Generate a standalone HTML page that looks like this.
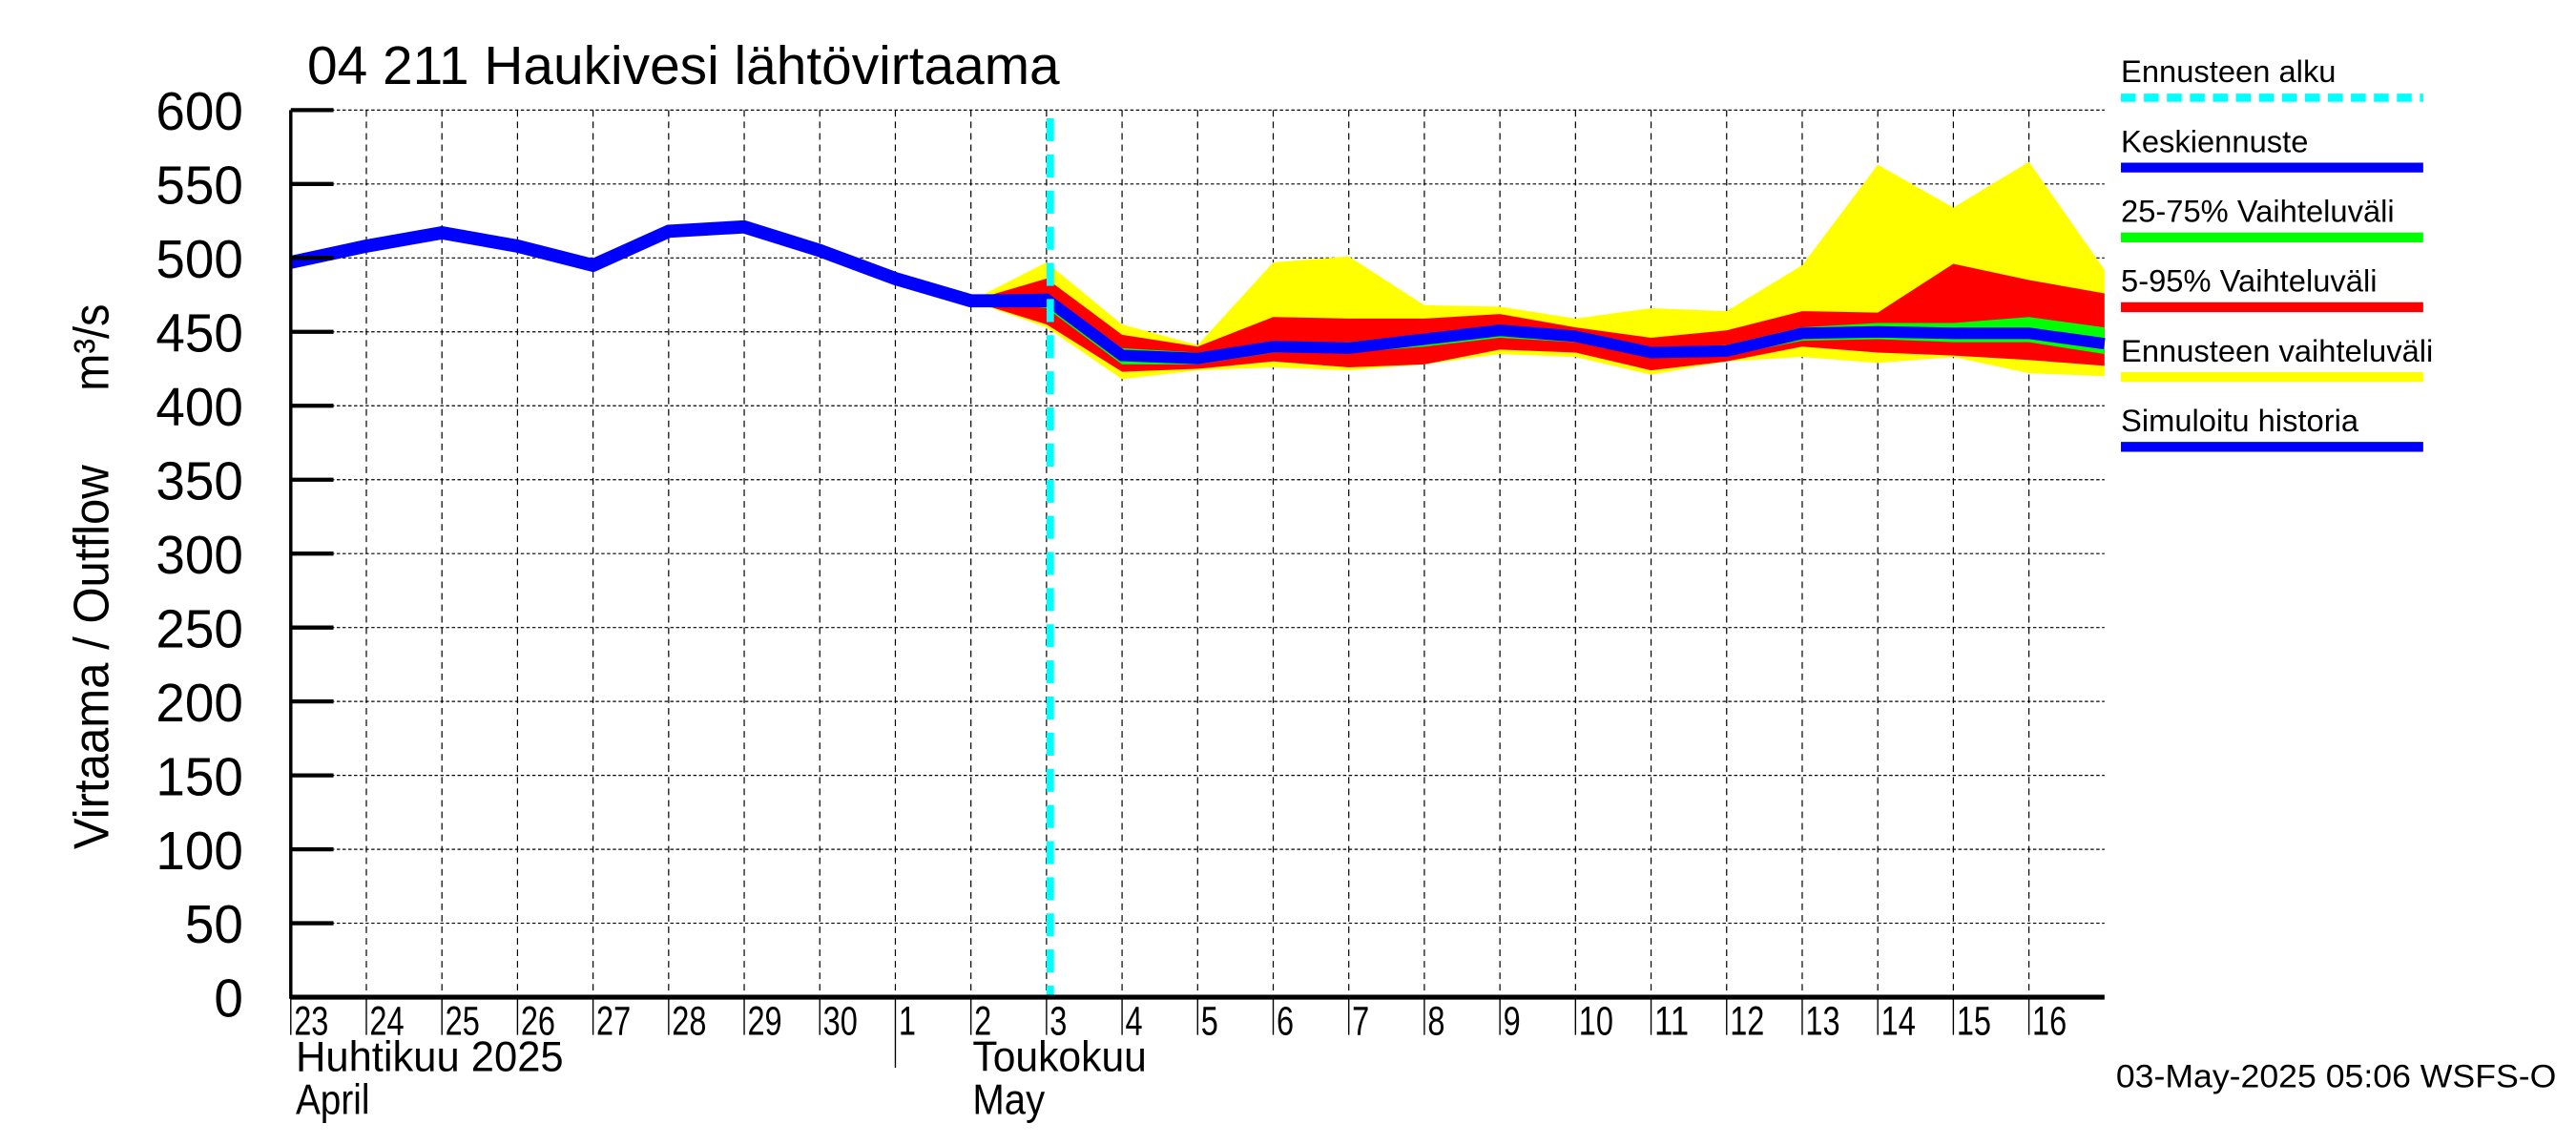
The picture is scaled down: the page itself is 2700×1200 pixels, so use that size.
<!DOCTYPE html>
<html><head><meta charset="utf-8"><style>
html,body{margin:0;padding:0;background:#fff;width:2700px;height:1200px;overflow:hidden}
svg{display:block}
text{font-family:"Liberation Sans",sans-serif;fill:#000}
</style></head><body>
<svg id="chart" width="2700" height="1200" viewBox="0 0 1568 697" preserveAspectRatio="none" xmlns="http://www.w3.org/2000/svg">
<g id="grid"></g>
<g id="bands"></g>
<g id="lines"></g>
<g id="axes"></g>
<text x="187" y="51" font-size="33" textLength="458" lengthAdjust="spacingAndGlyphs">04 211 Haukivesi lähtövirtaama</text>
<text transform="translate(66,517) rotate(-90)" font-size="30" textLength="234" lengthAdjust="spacingAndGlyphs">Virtaama / Outflow</text>
<text transform="translate(66,238) rotate(-90)" font-size="30" textLength="53" lengthAdjust="spacingAndGlyphs">m³/s</text>
<text x="180" y="652" font-size="26" textLength="163" lengthAdjust="spacingAndGlyphs">Huhtikuu  2025</text>
<text x="180" y="678" font-size="26" textLength="45" lengthAdjust="spacingAndGlyphs">April</text>
<text x="592" y="652" font-size="26" textLength="106" lengthAdjust="spacingAndGlyphs">Toukokuu</text>
<text x="592" y="678" font-size="26" textLength="44" lengthAdjust="spacingAndGlyphs">May</text>
<text x="1556" y="662" text-anchor="end" font-size="20" textLength="268" lengthAdjust="spacingAndGlyphs">03-May-2025 05:06 WSFS-O</text>
<g id="legend"></g>
</svg>
<script>
const yTicks=[0,50,100,150,200,250,300,350,400,450,500,550,600];
const dayLabels=["23","24","25","26","27","28","29","30","1","2","3","4","5","6","7","8","9","10","11","12","13","14","15","16"];
const histDays=[0,1,2,3,4,5,6,7,8,9,10];
const histVals=[497,508,517,508,495,518,521,505,486,471,471];
const fcDays=[9,10,11,12,13,14,15,16,17,18,19,20,21,22,23,24];
const median=[471,472,434,432,440,439,445,451,447,436,437,449,450,449,449,442];
const p25=[471,466,428,428,436,436,440,446,443,433,434,444,445,443,443,435];
const p75=[471,476,439,436,443,443,448,453,449,439,441,453,456,456,460,453];
const p5=[471,455,423,425,430,426,428,438,436,424,430,440,436,434,431,427];
const p95=[471,486,448,440,460,459,459,462,453,446,451,464,463,496,485,476];
const ymin=[471,453,418,424,426,424,428,435,433,421,430,433,429,433,422,420];
const ymax=[471,497,455,441,497,501,468,467,459,466,464,495,563,534,565,492];
const forecastStart=10.05;

const X0=177,X1=1281,Y0=607,Y1=67,NDAYS=24;
const xs=d=>X0+d*(X1-X0)/NDAYS;
const ys=v=>Y0-(v/600)*(Y0-Y1);
const NS="http://www.w3.org/2000/svg";
function mk(tag,parent,attrs){const e=document.createElementNS(NS,tag);for(const k in attrs)e.setAttribute(k,attrs[k]);parent.appendChild(e);return e;}
const grid=document.getElementById('grid'),bands=document.getElementById('bands'),lines=document.getElementById('lines'),axes=document.getElementById('axes'),legend=document.getElementById('legend');

yTicks.forEach(v=>{
  const l=mk('line',grid,{x1:X0,x2:X1,y1:ys(v),y2:ys(v),stroke:'#000','stroke-width':0.7,'stroke-dasharray':'2,1.5'});
  
  
  const t=mk('line',axes,{x1:X0,x2:X0+26,y1:ys(v),y2:ys(v),stroke:'#000','stroke-width':2.5});
  
  
  const s=String(v);
  const tx=mk('text',axes,{x:148,y:ys(v)+12,'text-anchor':'end','font-size':33,textLength:s.length*17.7,lengthAdjust:'spacingAndGlyphs'});
  tx.textContent=s;
  
  
});
dayLabels.forEach((lab,i)=>{
  const x=xs(i);
  if(i>0){const g=mk('line',grid,{x1:x,x2:x,y1:Y1,y2:Y0,stroke:'#000','stroke-width':0.7,'stroke-dasharray':'4,3'});
  
  }
  const t=mk('line',axes,{x1:x,x2:x,y1:Y0,y2:lab==="1"?650:630,stroke:'#000','stroke-width':0.8});
  
  
  const tx=mk('text',axes,{x:x+2,y:630,'font-size':25,textLength:lab.length*10.5,lengthAdjust:'spacingAndGlyphs'});
  tx.textContent=lab;
  
  
});
function band(lo,hi,color,name){
  let d='M'+fcDays.map((dd,i)=>xs(dd)+','+ys(hi[i])).join(' L');
  d+=' L'+fcDays.map((dd,i)=>xs(dd)+','+ys(lo[i])).reverse().join(' L')+' Z';
  const p=mk('path',bands,{d:d,fill:color});
  
  
}
band(ymin,ymax,'#ffff00','forecast-range-band');
band(p5,p95,'#ff0000','band-5-95');
band(p25,p75,'#00ff00','band-25-75');
const hl=mk('polyline',lines,{points:histDays.map((d,i)=>xs(d)+','+ys(histVals[i])).join(' '),fill:'none',stroke:'#0000ff','stroke-width':8,'stroke-linejoin':'round'});


const ml=mk('polyline',lines,{points:fcDays.map((d,i)=>xs(d)+','+ys(median[i])).join(' '),fill:'none',stroke:'#0000ff','stroke-width':7});


const fl=mk('line',lines,{x1:xs(forecastStart),x2:xs(forecastStart),y1:72,y2:Y0,stroke:'#00ffff','stroke-width':4.5,'stroke-dasharray':'14,8'});


const ya=mk('line',axes,{x1:X0,x2:X0,y1:Y1,y2:Y0+1,stroke:'#000','stroke-width':2});


const xa=mk('line',axes,{x1:X0,x2:X1,y1:Y0,y2:Y0,stroke:'#000','stroke-width':3});



const legItems=[["Ennusteen alku","#00ffff",true],["Keskiennuste","#0000ff",false],["25-75% Vaihteluväli","#00ff00",false],["5-95% Vaihteluväli","#ff0000",false],["Ennusteen vaihteluväli","#ffff00",false],["Simuloitu historia","#0000ff",false]];
legItems.forEach((it,i)=>{
  const y=42.5*i;
  const t=mk('text',legend,{x:1291,y:50+y,'font-size':19});
  t.textContent=it[0];
  
  
  const l=mk('line',legend,{x1:1291,x2:1475,y1:59.5+y,y2:59.5+y,stroke:it[1],'stroke-width':it[2]?5:6});
  if(it[2])l.setAttribute('stroke-dasharray','9,5');
  
  
});
</script>
</body></html>
